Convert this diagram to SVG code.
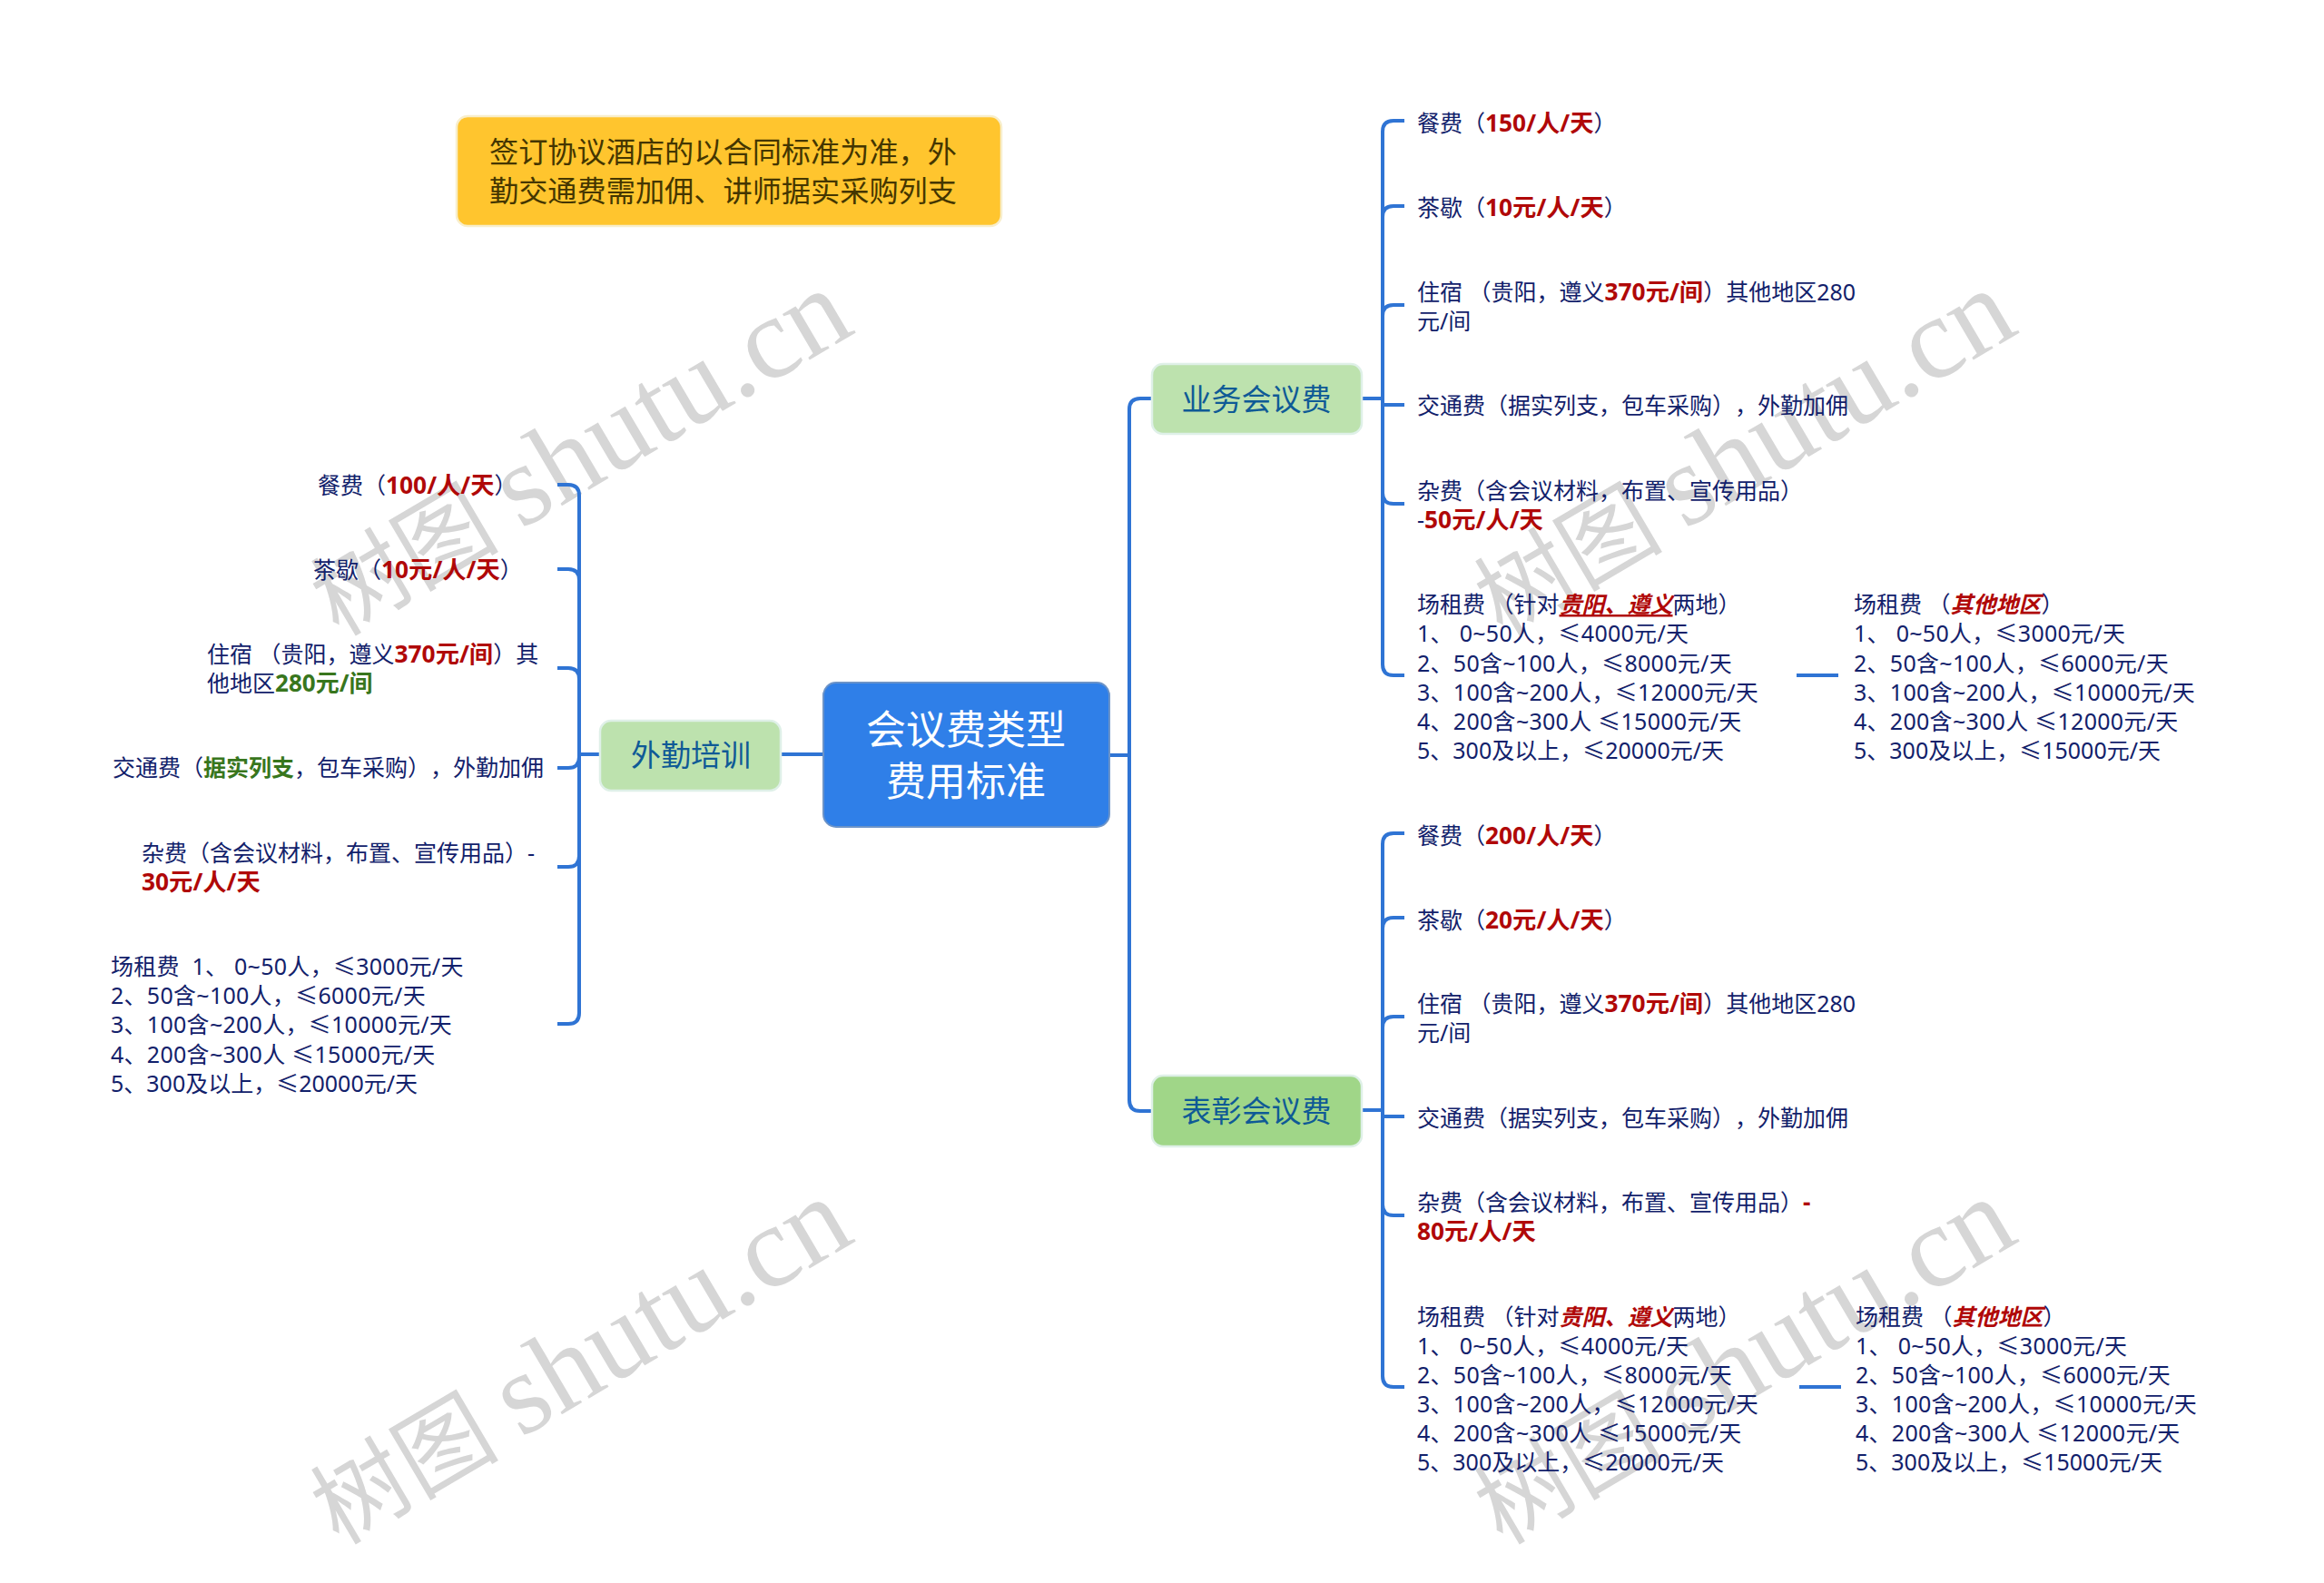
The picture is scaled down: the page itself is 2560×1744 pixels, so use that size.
<svg xmlns="http://www.w3.org/2000/svg" width="2560" height="1744" viewBox="0 0 2560 1744">
<style>
text{font-family:"Noto Sans","Noto Sans CJK SC",sans-serif;white-space:pre;text-spacing-trim:space-all}
.t{font-size:25px;fill:#12216b}
.s{letter-spacing:.28px}
.r{fill:#b00808;font-weight:700;font-size:26.3px}
.g{fill:#38761d;font-weight:700;font-size:26px}
.gs{fill:#38761d;font-weight:700}
.ri{fill:#b00808;font-weight:700;font-style:italic}
.u{text-decoration:underline}
.m{font-size:33px;fill:#0f5a96;text-anchor:middle}
.c{fill:none;stroke:#2f74d4;stroke-width:4;stroke-linecap:butt}
.w{font-family:"Liberation Serif","Noto Sans CJK SC",serif;font-size:128px;fill:#d6d6d6}
.wc{font-size:104px}
.n{stroke-width:2.5}
</style>
<rect width="2560" height="1744" fill="#ffffff"/>
<g id="watermarks">
<text class="w" transform="translate(373 702) rotate(-30.5)"><tspan class="wc">树图</tspan> <tspan dx="-7">shutu.cn</tspan></text>
<text class="w" transform="translate(373 1703) rotate(-30.5)"><tspan class="wc">树图</tspan> <tspan dx="-7">shutu.cn</tspan></text>
<text class="w" transform="translate(1655 702) rotate(-30.5)"><tspan class="wc">树图</tspan> <tspan dx="-7">shutu.cn</tspan></text>
<text class="w" transform="translate(1655 1703) rotate(-30.5)"><tspan class="wc">树图</tspan> <tspan dx="-7">shutu.cn</tspan></text>
</g>
<g id="connectors">
<path class="c" d="M1222 832H1244M1269 439H1256Q1244 439 1244 451V1212Q1244 1224 1256 1224H1269"/>
<path class="c" d="M907 831H860"/>
<path class="c" d="M1500 439H1523M1547 133H1535Q1523 133 1523 145V732Q1523 744 1535 744H1547M1547 227H1535Q1523 227 1523 239M1547 336H1535Q1523 336 1523 348M1523 446H1547M1523 543Q1523 555 1535 555H1547"/>
<path class="c" d="M1979 744H2025"/>
<path class="c" d="M1500 1223H1523M1547 918H1535Q1523 918 1523 930V1516Q1523 1528 1535 1528H1547M1547 1011H1535Q1523 1011 1523 1023M1547 1120H1535Q1523 1120 1523 1132M1523 1230H1547M1523 1327Q1523 1339 1535 1339H1547"/>
<path class="c" d="M1982 1528H2028"/>
<path class="c" d="M661 831H638M614 534H626Q638 534 638 546V1116Q638 1128 626 1128H614M614 627H626Q638 627 638 639M614 736H626Q638 736 638 748M614 846H626Q638 846 638 834M614 955H626Q638 955 638 943"/>
</g>
<g id="note"><rect class="n" x="503" y="128" width="600" height="121" rx="12" fill="#ffc52e" stroke="#f8eecb"/>
<text font-size="32.2" fill="#443600"><tspan x="539" y="179">签订协议酒店的以合同标准为准，外</tspan><tspan x="539" y="222">勤交通费需加佣、讲师据实采购列支</tspan></text></g>
<g id="root"><rect x="907" y="752" width="315" height="159" rx="14" fill="#2f7fe8" stroke="#6b93c8" stroke-width="2"/>
<text font-size="44" fill="#ffffff" text-anchor="middle"><tspan x="1064" y="820">会议费类型</tspan><tspan x="1064" y="877">费用标准</tspan></text></g>
<g id="n-waiqin"><rect class="n" x="661" y="794" width="199" height="77" rx="12" fill="#bde2ae" stroke="#dff0e8"/><text class="m" x="761" y="844">外勤培训</text></g>
<g id="n-yewu"><rect class="n" x="1269" y="401" width="231" height="77" rx="12" fill="#bde2ae" stroke="#dff0e8"/><text class="m" x="1384" y="452">业务会议费</text></g>
<g id="n-biaozhang"><rect class="n" x="1269" y="1185" width="231" height="78" rx="12" fill="#a0d688" stroke="#dff0e8"/><text class="m" x="1384" y="1236">表彰会议费</text></g>
<g id="yewu-items" transform="translate(0 1)">
<text class="t" x="1561" y="144">餐费（<tspan class="r">150/人/天</tspan>）</text>
<text class="t" x="1561" y="237">茶歇（<tspan class="r">10元/人/天</tspan>）</text>
<text class="t"><tspan x="1561" y="330">住宿 （贵阳，遵义<tspan class="r">370元/间</tspan>）其他地区280</tspan><tspan x="1561" y="362">元/间</tspan></text>
<text class="t" x="1561" y="455">交通费（据实列支，包车采购），外勤加佣</text>
<text class="t"><tspan x="1561" y="549">杂费（含会议材料，布置、宣传用品）</tspan><tspan x="1561" y="581">-<tspan class="r">50元/人/天</tspan></tspan></text>
<text class="t"><tspan x="1561" y="674">场租费 （针对<tspan class="ri u">贵阳、遵义</tspan>两地）</tspan><tspan class="s" x="1561" y="706">1、 0~50人，≤4000元/天</tspan><tspan class="s" x="1561" y="739">2、50含~100人，≤8000元/天</tspan><tspan class="s" x="1561" y="771">3、100含~200人，≤12000元/天</tspan><tspan class="s" x="1561" y="803">4、200含~300人 ≤15000元/天</tspan><tspan x="1561" y="835">5、300及以上，≤20000元/天</tspan></text>
<text class="t"><tspan x="2042" y="674">场租费 （<tspan class="ri">其他地区</tspan>）</tspan><tspan class="s" x="2042" y="706">1、 0~50人，≤3000元/天</tspan><tspan class="s" x="2042" y="739">2、50含~100人，≤6000元/天</tspan><tspan class="s" x="2042" y="771">3、100含~200人，≤10000元/天</tspan><tspan class="s" x="2042" y="803">4、200含~300人 ≤12000元/天</tspan><tspan x="2042" y="835">5、300及以上，≤15000元/天</tspan></text>
</g>
<g id="biaozhang-items" transform="translate(0 1)">
<text class="t" x="1561" y="929">餐费（<tspan class="r">200/人/天</tspan>）</text>
<text class="t" x="1561" y="1022">茶歇（<tspan class="r">20元/人/天</tspan>）</text>
<text class="t"><tspan x="1561" y="1114">住宿 （贵阳，遵义<tspan class="r">370元/间</tspan>）其他地区280</tspan><tspan x="1561" y="1146">元/间</tspan></text>
<text class="t" x="1561" y="1240">交通费（据实列支，包车采购），外勤加佣</text>
<text class="t"><tspan x="1561" y="1333">杂费（含会议材料，布置、宣传用品）<tspan class="r">-</tspan></tspan><tspan x="1561" y="1365" class="r">80元/人/天</tspan></text>
<text class="t"><tspan x="1561" y="1459">场租费 （针对<tspan class="ri">贵阳、遵义</tspan>两地）</tspan><tspan class="s" x="1561" y="1491">1、 0~50人，≤4000元/天</tspan><tspan class="s" x="1561" y="1523">2、50含~100人，≤8000元/天</tspan><tspan class="s" x="1561" y="1555">3、100含~200人，≤12000元/天</tspan><tspan class="s" x="1561" y="1587">4、200含~300人 ≤15000元/天</tspan><tspan x="1561" y="1619">5、300及以上，≤20000元/天</tspan></text>
<text class="t"><tspan x="2044" y="1459">场租费 （<tspan class="ri">其他地区</tspan>）</tspan><tspan class="s" x="2044" y="1491">1、 0~50人，≤3000元/天</tspan><tspan class="s" x="2044" y="1523">2、50含~100人，≤6000元/天</tspan><tspan class="s" x="2044" y="1555">3、100含~200人，≤10000元/天</tspan><tspan class="s" x="2044" y="1587">4、200含~300人 ≤12000元/天</tspan><tspan x="2044" y="1619">5、300及以上，≤15000元/天</tspan></text>
</g>
<g id="waiqin-items">
<text class="t" x="350" y="544">餐费（<tspan class="r">100/人/天</tspan>）</text>
<text class="t" x="345" y="637">茶歇（<tspan class="r">10元/人/天</tspan>）</text>
<text class="t"><tspan x="228" y="730">住宿 （贵阳，遵义<tspan class="r">370元/间</tspan>）其</tspan><tspan x="228" y="762">他地区<tspan class="g">280元/间</tspan></tspan></text>
<text class="t" x="124" y="855">交通费（<tspan class="gs">据实列支</tspan>，包车采购），外勤加佣</text>
<text class="t"><tspan x="156" y="949">杂费（含会议材料，布置、宣传用品）-</tspan><tspan x="156" y="981" class="r">30元/人/天</tspan></text>
<text class="t"><tspan class="s" x="122" y="1074">场租费  1、 0~50人，≤3000元/天</tspan><tspan class="s" x="122" y="1106">2、50含~100人，≤6000元/天</tspan><tspan class="s" x="122" y="1138">3、100含~200人，≤10000元/天</tspan><tspan class="s" x="122" y="1171">4、200含~300人 ≤15000元/天</tspan><tspan x="122" y="1203">5、300及以上，≤20000元/天</tspan></text>
</g>
</svg>
